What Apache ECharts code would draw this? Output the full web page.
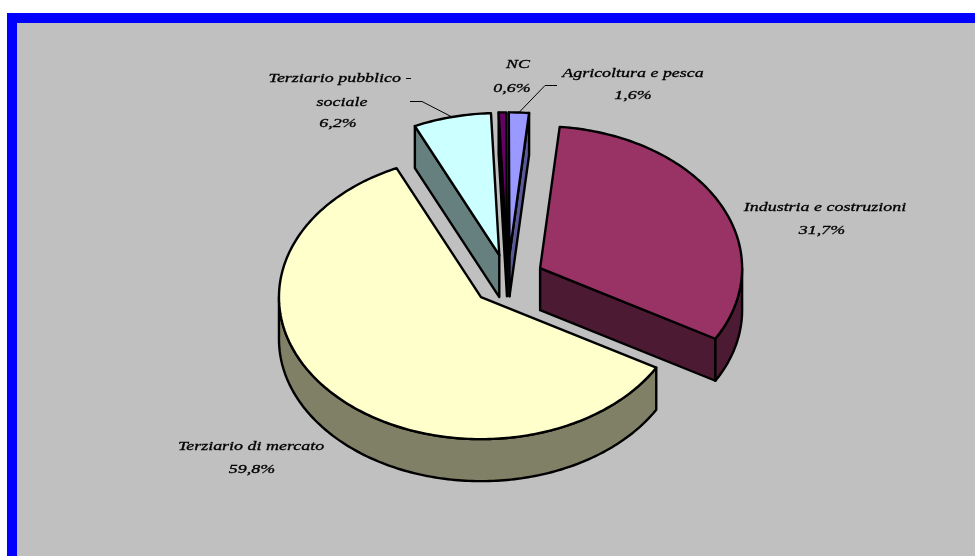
<!DOCTYPE html>
<html>
<head>
<meta charset="utf-8">
<style>html,body{margin:0;padding:0;background:#fff}#c{width:975px;height:556px}</style>
<script src="https://cdn.jsdelivr.net/npm/echarts@6/dist/echarts.min.js"></script>
</head>
<body>
<div id="c"></div>
<script>
// Data, clockwise from the top
const categories = ['Agricoltura e pesca', 'Industria e costruzioni', 'Terziario di mercato', 'Terziario pubblico - sociale', 'NC'];
const shares = [1.6, 31.7, 59.8, 6.2, 0.6];
const valueLabels = ['1,6%', '31,7%', '59,8%', '6,2%', '0,6%'];

// Styles
const topColors = ['#9999FF', '#993366', '#FFFFCC', '#CCFFFF', '#660066'];
const wallColors = ['#5A5A99', '#4D1A33', '#808066', '#668080', '#330033'];
const drawOrder = [3, 0, 4, 1, 2];

// Layout of the tilted pie
const pie = { cx: 507.8, cy: 279.9, rx: 202, ry: 142, depth: 42, explode: 0.18, startDeg: -0.2 };
const labelLayout = [
  { lines: [[633, 74, 'Agricoltura e pesca'], [633, 96, null]], leader: [[557, 85.5], [545, 85.5]] },
  { lines: [[825, 208, 'Industria e costruzioni'], [822, 231, null]] },
  { lines: [[251, 447, 'Terziario di mercato'], [252, 470, null]] },
  { lines: [[340, 79, 'Terziario pubblico -'], [342, 103, 'sociale'], [338, 124, null]], leader: [[410, 101.5], [422, 101.5]] },
  { lines: [[518, 65, 'NC'], [512, 89, null]] }
];

const total = shares.reduce((a, b) => a + b, 0);
const spans = [];
let acc = pie.startDeg;
shares.forEach(v => { const d = v / total * 360; spans.push([acc, acc + d]); acc += d; });

function rim(c, deg) {
  const t = deg * Math.PI / 180;
  return [c[0] + pie.rx * Math.sin(t), c[1] - pie.ry * Math.cos(t)];
}
function arcPts(c, a, b) {
  const pts = [], n = Math.max(2, Math.ceil(Math.abs(b - a)));
  for (let i = 0; i <= n; i++) pts.push(rim(c, a + (b - a) * i / n));
  return pts;
}
const down = p => [p[0], p[1] + pie.depth];
const stroke = { stroke: '#000', lineWidth: 2.4, lineJoin: 'round' };

function renderItem(params, api) {
  const i = drawOrder[params.dataIndex];
  const [a, b] = spans[i];
  const mid = (a + b) / 2 * Math.PI / 180;
  const c = [pie.cx + pie.explode * pie.rx * Math.sin(mid), pie.cy - pie.explode * pie.ry * Math.cos(mid)];
  const children = [];
  const poly = (points, fill) => children.push({ type: 'polygon', shape: { points }, style: Object.assign({ fill }, stroke) });
  const isin = d => Math.sin(d * Math.PI / 180);
  // radial walls facing the viewer
  const wall = d => { const p = rim(c, d); poly([c, p, down(p), down(c)], wallColors[i]); };
  if (isin(a) < 0) wall(a);
  if (isin(b) > 0) wall(b);
  // outer rim wall on the near half of the ellipse
  const r0 = Math.max(a, 90), r1 = Math.min(b, 270);
  if (r1 > r0) {
    const top = arcPts(c, r0, r1);
    poly(top.concat(top.slice().reverse().map(down)), wallColors[i]);
  }
  // top face
  poly([c].concat(arcPts(c, a, b)), topColors[i]);
  // labels
  const lay = labelLayout[i];
  lay.lines.forEach(l => children.push({
    type: 'text', x: l[0], y: l[1], scaleX: 1.38, z2: 20,
    style: { x: 0, y: 0, text: l[2] === null ? valueLabels[i] : l[2], fill: '#000',
      stroke: '#000', lineWidth: 0.3,
      font: 'italic 13px "Liberation Serif"', align: 'center', verticalAlign: 'middle' }
  }));
  if (lay.leader) {
    const anchor = rim(c, (a + b) / 2);
    children.push({ type: 'polyline', z2: 20, shape: { points: lay.leader.concat([anchor]) },
      style: { stroke: '#000', lineWidth: 1, fill: null } });
  }
  return { type: 'group', children };
}

const chart = echarts.init(document.getElementById('c'), null, { renderer: 'canvas' });
chart.setOption({
  animation: false,
  backgroundColor: '#fff',
  graphic: [{ type: 'rect', z: 0, silent: true, shape: { x: 12, y: 18, width: 1300, height: 1000 },
    style: { fill: '#C0C0C0', stroke: '#0000FF', lineWidth: 10 } }],
  series: [{
    type: 'custom', coordinateSystem: 'none', z: 5, silent: true, clip: false,
    renderItem,
    data: drawOrder.map(i => ({ name: categories[i], value: [shares[i]] })),
  }]
});
</script>
</body>
</html>
